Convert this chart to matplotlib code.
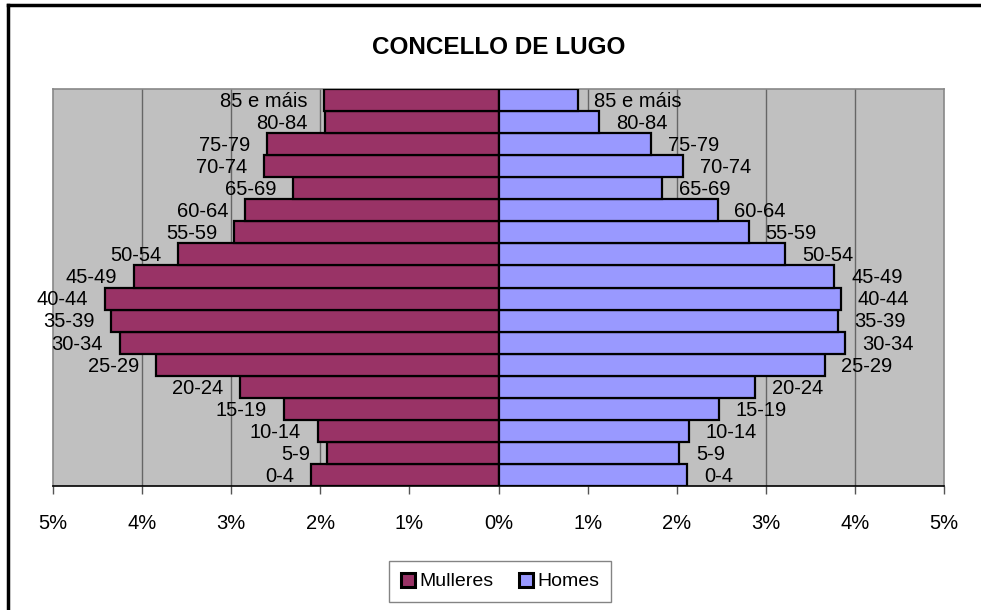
import matplotlib
matplotlib.use("Agg")
import matplotlib.pyplot as plt
from matplotlib.lines import Line2D
from matplotlib.ticker import FuncFormatter
import numpy as np

plt.rcParams['font.family'] = ['Liberation Sans', 'DejaVu Sans']

# age groups, bottom to top
groups = ["0-4", "5-9", "10-14", "15-19", "20-24", "25-29", "30-34", "35-39",
          "40-44", "45-49", "50-54", "55-59", "60-64", "65-69", "70-74",
          "75-79", "80-84", "85 e máis"]
# share of population, percent
mulleres = [2.10, 1.93, 2.03, 2.41, 2.90, 3.84, 4.25, 4.35, 4.42, 4.09,
            3.60, 2.97, 2.84, 2.31, 2.63, 2.60, 1.95, 1.96]
homes = [2.12, 2.03, 2.14, 2.47, 2.88, 3.66, 3.89, 3.81, 3.84, 3.77,
         3.22, 2.81, 2.46, 1.84, 2.07, 1.71, 1.13, 0.89]
x_ticks = [-5, -4, -3, -2, -1, 0, 1, 2, 3, 4, 5]

c_m = '#993366'
c_h = '#9999FF'

fig = plt.figure(figsize=(9.81, 6.10), dpi=100)
ax = fig.add_axes([53/981, 1-486/610, (944-53)/981, (486-89)/610])
ax.set_facecolor('#C0C0C0')

y = np.arange(len(groups))
m_vals = -np.array(mulleres) / 100
h_vals = np.array(homes) / 100
ax.barh(y, m_vals, height=1.0, color=c_m, edgecolor='black', linewidth=1.6,
        label='Mulleres', zorder=3)
ax.barh(y, h_vals, height=1.0, color=c_h, edgecolor='black', linewidth=1.6,
        label='Homes', zorder=3)

# category labels next to bar ends
for yi, lab, mv, hv in zip(y, groups, m_vals, h_vals):
    ax.annotate(lab, (mv, yi), xytext=(-12, -1), textcoords='offset points',
                ha='right', va='center', fontsize=14.5, zorder=4)
    ax.annotate(lab, (hv, yi), xytext=(12, -1), textcoords='offset points',
                ha='left', va='center', fontsize=14.5, zorder=4)

ax.set_xlim(-0.05, 0.05)
ax.set_ylim(-0.5, len(groups) - 0.5)
ax.set_xticks([t / 100 for t in x_ticks])
ax.xaxis.set_major_formatter(FuncFormatter(lambda v, p: f"{abs(v)*100:.0f}%"))
ax.tick_params(axis='x', direction='out', length=6, width=1, color='#555555',
               labelsize=14.5, pad=14)
ax.set_yticks([])
for v in x_ticks:
    if v not in (-5, 0, 5):
        ax.axvline(v / 100, color='#666666', linewidth=1, zorder=1)

for s in ('top', 'left', 'right'):
    ax.spines[s].set_color('#888888')
    ax.spines[s].set_linewidth(1.2)
ax.spines['bottom'].set_color('black')
ax.spines['bottom'].set_linewidth(1.2)

fig.text(499/981, 1-48/610, "CONCELLO DE LUGO", ha='center', va='center',
         fontsize=17.5, fontweight='bold')

leg = fig.legend(loc='center', bbox_to_anchor=(500/981, 1-581.5/610), ncol=2,
                 fontsize=14, frameon=True, fancybox=False, edgecolor='#666666',
                 handlelength=0.75, handleheight=0.75, handletextpad=0.2,
                 columnspacing=1.3, borderpad=0.6, borderaxespad=0)
leg.get_frame().set_linewidth(1.0)
for h in leg.legend_handles:
    h.set_linewidth(2.2)

# outer chart border (only top and left visible)
fig.add_artist(Line2D([8/981, 1], [1-5/610, 1-5/610], color='black', linewidth=2.5,
                      transform=fig.transFigure))
fig.add_artist(Line2D([8/981, 8/981], [0, 1-5/610], color='black', linewidth=2.5,
                      transform=fig.transFigure))

fig.savefig("out.png", dpi=100)
